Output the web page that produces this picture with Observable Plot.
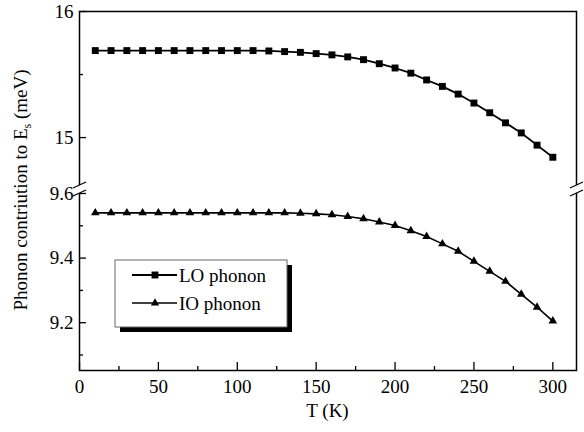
<!DOCTYPE html>
<html><head><meta charset="utf-8">
<script src="https://cdn.jsdelivr.net/npm/d3@7"></script>
<script src="https://cdn.jsdelivr.net/npm/@observablehq/plot@0.6"></script>
<style>body{margin:0;background:#fff} svg text{font-family:'Liberation Serif','Times New Roman','DejaVu Serif',serif !important;}</style>
</head><body><div id="chart"></div>
<script>
// ---- data ----
const temps = [10,20,30,40,50,60,70,80,90,100,110,120,130,140,150,160,170,180,190,200,210,220,230,240,250,260,270,280,290,300];
const loPhonon = [15.69,15.69,15.69,15.69,15.69,15.69,15.69,15.69,15.69,15.69,15.69,15.687,15.682,15.676,15.666,15.656,15.640,15.618,15.586,15.552,15.511,15.457,15.406,15.345,15.274,15.197,15.117,15.037,14.940,14.844];
const ioPhonon = [9.540,9.540,9.540,9.540,9.540,9.540,9.540,9.540,9.540,9.540,9.540,9.540,9.540,9.539,9.537,9.534,9.529,9.522,9.512,9.501,9.485,9.467,9.444,9.421,9.390,9.359,9.328,9.288,9.248,9.205];
const seriesNames = ["LO phonon", "IO phonon"];
const xTicks = [0,50,100,150,200,250,300];
const xMinorTicks = [25,75,125,175,225,275];
const yTicks = [9.2,9.4,9.6,15,16];
const yMinorTicks = [9.1,9.3,9.5,15.5];
const yBreak = [9.6, 14.62]; // axis break: lower segment top, upper segment bottom
const xLabel = "T (K)";

const lo = temps.map((t, i) => ({T: t, v: loPhonon[i]}));
const io = temps.map((t, i) => ({T: t, v: ioPhonon[i]}));

const font = "'Liberation Serif', 'Times New Roman', 'DejaVu Serif', serif";
const fs = 19;

const plot = Plot.plot({
  width: 584, height: 432,
  marginLeft: 79, marginRight: 8, marginTop: 11, marginBottom: 62,
  style: {fontFamily: font, background: "#fff", color: "#000"},
  x: {domain: [0, 315]},
  y: {type: "linear", domain: [9.052, yBreak[0], yBreak[1], 16], range: [370, 193, 185, 11]},
  marks: [
    Plot.frame({stroke: "#000", strokeWidth: 1.5}),
    Plot.axisX(xTicks, {anchor: "bottom", tickSize: -8, tickPadding: 17, fontSize: fs, label: null, strokeWidth: 1.3, tickFormat: d => String(d)}),
    Plot.axisX(xMinorTicks, {anchor: "bottom", tickSize: -4, tickFormat: () => "", label: null, strokeWidth: 1.3}),
    Plot.axisY(yTicks, {anchor: "left", tickSize: -7, tickPadding: 13, fontSize: fs, label: null, strokeWidth: 1.3, tickFormat: d => String(d)}),
    Plot.axisY(yMinorTicks, {anchor: "left", tickSize: -4, tickFormat: () => "", label: null, strokeWidth: 1.3}),
    Plot.line(lo, {x: "T", y: "v", stroke: "#000", strokeWidth: 1.8}),
    Plot.dot(lo, {x: "T", y: "v", symbol: "square", r: 3.9, fill: "#000", stroke: null}),
    Plot.line(io, {x: "T", y: "v", stroke: "#000", strokeWidth: 1.6}),
    Plot.dot(io, {x: "T", y: "v", symbol: "triangle", r: 3.2, fill: "#000", stroke: null})
  ]
});
document.getElementById("chart").appendChild(plot);

const svg = d3.select(plot);
const xs = plot.scale("x"), ys = plot.scale("y");
const x0 = xs.range[0], x1 = xs.range[1];
const yb1 = ys.apply(yBreak[1]), yb0 = ys.apply(yBreak[0]);

// axis break
const brk = svg.append("g");
[x0, x1].forEach(xx => {
  brk.append("rect").attr("x", xx - 3).attr("y", yb1).attr("width", 6).attr("height", yb0 - yb1).attr("fill", "#fff");
  [yb1, yb0].forEach(yy => {
    brk.append("line").attr("x1", xx - 6).attr("y1", yy + 3).attr("x2", xx + 7).attr("y2", yy - 3)
      .attr("stroke", "#000").attr("stroke-width", 1.3);
  });
});

// axis labels
svg.append("text").attr("x", (x0 + x1) / 2).attr("y", 417).attr("text-anchor", "middle")
  .attr("font-family", font).attr("font-size", fs).text(xLabel);
const yl = svg.append("text").attr("transform", "translate(27,190) rotate(-90)").attr("text-anchor", "middle")
  .attr("font-family", font).attr("font-size", fs);
yl.append("tspan").text("Phonon contriution to E");
yl.append("tspan").attr("dy", 4).attr("font-size", 12).text("s");
yl.append("tspan").attr("dy", -4).text(" (meV)");

// legend
const lg = svg.append("g");
lg.append("rect").attr("x", 120).attr("y", 265).attr("width", 172).attr("height", 67).attr("fill", "#000");
lg.append("rect").attr("x", 115).attr("y", 260).attr("width", 172).attr("height", 67).attr("fill", "#fff").attr("stroke", "#666").attr("stroke-width", 1);
const entries = [
  {name: seriesNames[0], y: 275, sym: d3.symbolSquare, size: 48, sw: 2},
  {name: seriesNames[1], y: 303, sym: d3.symbolTriangle, size: 30, sw: 1.3}
];
entries.forEach(e => {
  lg.append("line").attr("x1", 132).attr("x2", 177).attr("y1", e.y).attr("y2", e.y).attr("stroke", "#000").attr("stroke-width", e.sw);
  lg.append("path").attr("d", d3.symbol(e.sym, e.size)()).attr("transform", `translate(155,${e.y})`).attr("fill", "#000");
  lg.append("text").attr("x", 179).attr("y", e.y).attr("dy", "0.35em").attr("text-anchor", "start")
    .attr("font-family", font).attr("font-size", fs).text(e.name);
});
</script></body></html>
